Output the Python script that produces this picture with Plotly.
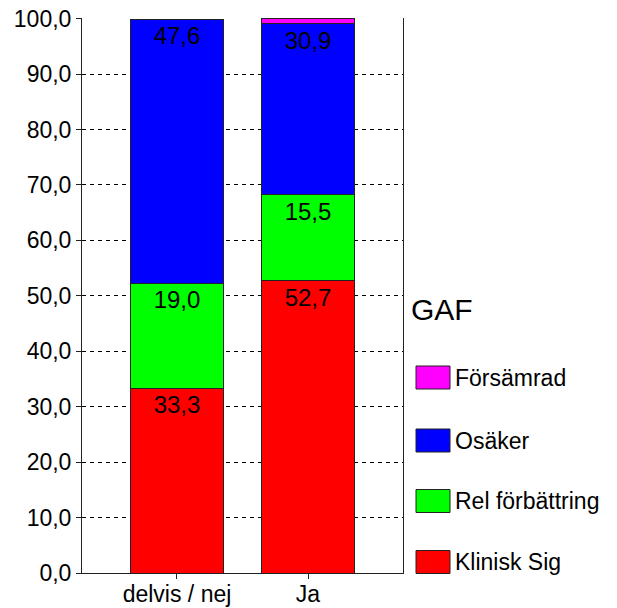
import plotly.graph_objects as go

categories = ["delvis / nej", "Ja"]
series_names = ["Klinisk Sig", "Rel förbättring", "Osäker", "Försämrad"]
series_colors = ["#FF0000", "#00FF00", "#0000FF", "#FF00FF"]
klinisk_sig = [33.3, 52.7]
rel_forbattring = [19.0, 15.5]
osaker = [47.6, 30.9]
forsamrad = [0.0, 0.9]
series_values = [klinisk_sig, rel_forbattring, osaker, forsamrad]
y_ticks = [0, 10, 20, 30, 40, 50, 60, 70, 80, 90, 100]
legend_title = "GAF"

FONT = "Liberation Sans, Arial, sans-serif"

fig = go.Figure()
for name, color, vals in zip(series_names, series_colors, series_values):
    texts = [("%.1f" % v).replace(".", ",") if v >= 5 else "" for v in vals]
    fig.add_trace(go.Bar(
        x=categories, y=vals, name=name,
        marker=dict(color=color, line=dict(color="#222222", width=1)),
        text=texts, textposition="inside", insidetextanchor="end",
        textangle=0,
        textfont=dict(family=FONT, size=24, color="black"),
        width=0.71, showlegend=False,
    ))

FW, FH = 617, 608
L, R, T, B = 82, 403, 18, 573
W, H = R - L, B - T

def px(x):
    return (x - L) / W

def py(y):
    return (B - y) / H

shapes = []
annotations = []
annotations.append(dict(
    x=px(409), y=py(309), xref="paper", yref="paper", text=legend_title,
    showarrow=False, xanchor="left", yanchor="middle",
    font=dict(family=FONT, size=30, color="black")))
row_y = [562, 501, 440.5, 377.5]
for name, color, ry in zip(series_names, series_colors, row_y):
    shapes.append(dict(type="rect", xref="paper", yref="paper",
                       x0=px(416), x1=px(450), y0=py(ry + 11.5), y1=py(ry - 11.5),
                       fillcolor=color, line=dict(color="#222222", width=1)))
    annotations.append(dict(
        x=px(453), y=py(ry), xref="paper", yref="paper", text=name,
        showarrow=False, xanchor="left", yanchor="middle",
        font=dict(family=FONT, size=23, color="black")))

fig.update_layout(
    width=FW, height=FH,
    margin=dict(l=L, r=FW - R, t=T, b=FH - B, autoexpand=False),
    barmode="stack",
    plot_bgcolor="white", paper_bgcolor="white",
    font=dict(family=FONT, color="black"),
    shapes=shapes, annotations=annotations,
    uniformtext=dict(mode="show", minsize=10),
)
fig.update_xaxes(
    range=[-0.725, 1.725], showgrid=False, automargin=False,
    showline=True, linecolor="#222222", linewidth=1,
    ticks="outside", ticklen=5, tickcolor="#222222",
    ticklabelstandoff=-5,
    tickfont=dict(family=FONT, size=23, color="black"),
)
fig.update_yaxes(
    range=[0, 100.1], tickvals=y_ticks, automargin=False,
    ticktext=[("%.1f" % v).replace(".", ",") for v in y_ticks],
    showgrid=True, gridcolor="black", gridwidth=1, griddash="4px,4px",
    showline=True, linecolor="#222222", linewidth=1, mirror=True,
    ticks="outside", ticklen=5, tickcolor="#222222",
    zeroline=False,
    tickfont=dict(family=FONT, size=23, color="black"),
)

fig.write_html(
    "out.html",
    config={"displayModeBar": False},
    post_script="document.body.style.margin='0';document.body.style.overflow='hidden';",
)
